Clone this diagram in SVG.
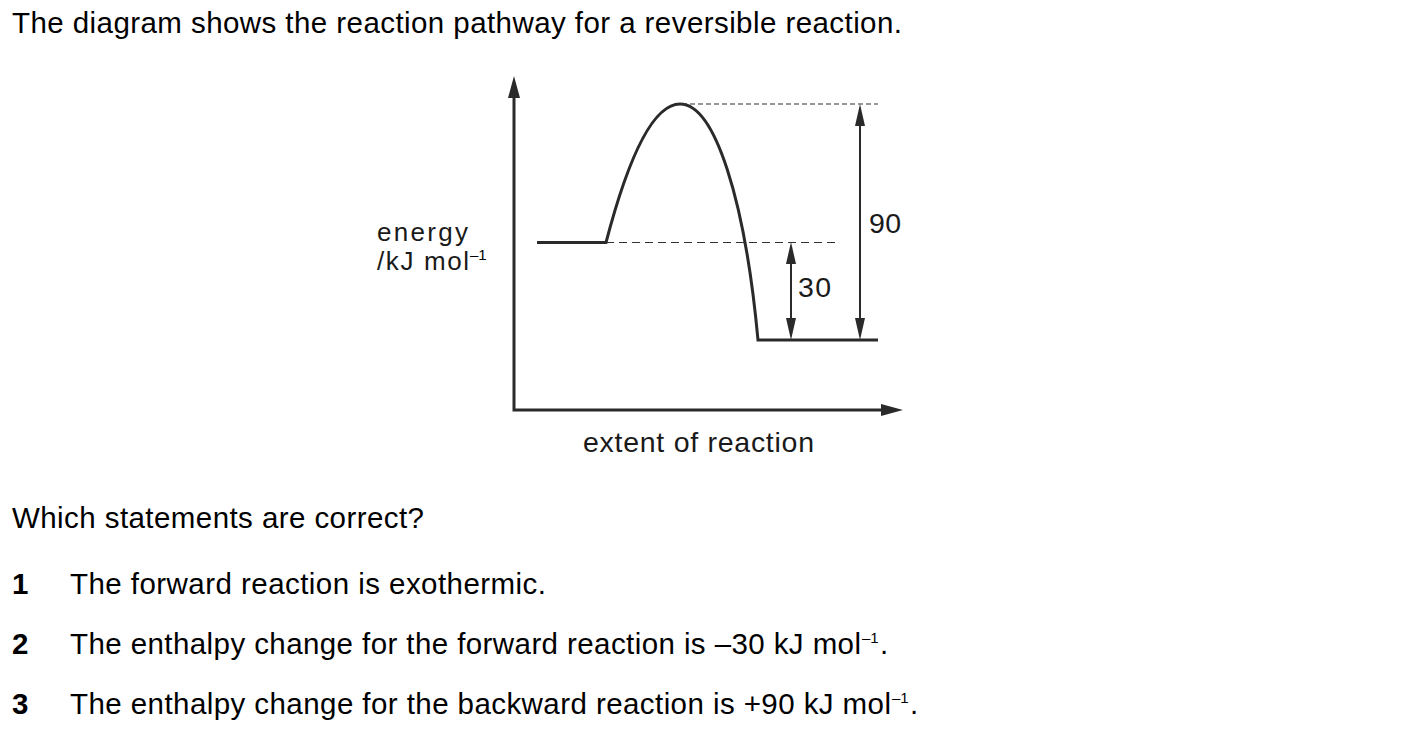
<svg xmlns="http://www.w3.org/2000/svg" width="1424" height="732" viewBox="0 0 1424 732">
<style>
text{font-family:"Liberation Sans",Arial,sans-serif;fill:#000}
.t{font-size:29.5px}
.lab{font-size:28.5px;fill:#1a1a1a}
.ylab{font-size:26px;fill:#1a1a1a}
.num{font-size:28.5px;fill:#1a1a1a}
.sup{font-size:15px}
.b{font-weight:bold}
.ax{stroke:#2a2a2a;stroke-width:3;fill:none}
.cv{stroke:#2a2a2a;stroke-width:3;fill:none}
.dash1{stroke:#333;stroke-width:1;stroke-dasharray:5 3;fill:none}
.dash2{stroke:#333;stroke-width:1;stroke-dasharray:8 5;fill:none}
.dim{stroke:#2a2a2a;stroke-width:2;fill:none}
.head{fill:#2a2a2a}
</style>
<rect width="1424" height="732" fill="#fff"/>
<g id="title"><text class="t" x="12" y="33" textLength="890">The diagram shows the reaction pathway for a reversible reaction.</text></g>
<g id="axes">
<path class="ax" d="M514,96 V410 H884"/>
<polygon class="head" points="514,76 520,98 508,98"/>
<polygon class="head" points="903,410 881,404 881,416"/>
</g>
<g id="y-label">
<text class="ylab" x="377" y="241" textLength="91">energy</text>
<text class="ylab" x="377" y="270" textLength="92">/kJ mol</text>
<text class="sup" x="470" y="260" fill="#1a1a1a">–1</text>
</g>
<g id="x-label"><text class="lab" x="583" y="452" textLength="231">extent of reaction</text></g>
<g id="profile">
<path class="cv" d="M537,242.5 H606 C625,170 650,104 680,104 C715,104 745,200 758,340 H878"/>
</g>
<g id="connectors">
<line class="dash1" x1="682" y1="104" x2="878" y2="104"/>
<line class="dash2" x1="606" y1="242.5" x2="839" y2="242.5"/>
<line class="dim" x1="791" y1="258" x2="791" y2="325"/>
<polygon class="head" points="791,242 796,264 786,264"/>
<polygon class="head" points="791,340 796,318 786,318"/>
<line class="dim" x1="860" y1="120" x2="860" y2="325"/>
<polygon class="head" points="860,104 865,126 855,126"/>
<polygon class="head" points="860,340 865,318 855,318"/>
</g>
<g id="dim-labels">
<text class="num" x="798" y="297" textLength="33">30</text>
<text class="num" x="869" y="233" textLength="32">90</text>
</g>
<g id="question"><text class="t" x="12" y="528" textLength="412">Which statements are correct?</text></g>
<g id="statement-1">
<text class="t b" x="12" y="594">1</text>
<text class="t" x="70" y="594" textLength="476">The forward reaction is exothermic.</text>
</g>
<g id="statement-2">
<text class="t b" x="12" y="654">2</text>
<text class="t" x="70" y="654" textLength="791">The enthalpy change for the forward reaction is –30 kJ mol</text>
<text class="sup" x="862" y="643">–1</text>
<text class="t" x="880" y="654">.</text>
</g>
<g id="statement-3">
<text class="t b" x="12" y="714">3</text>
<text class="t" x="70" y="714" textLength="821">The enthalpy change for the backward reaction is +90 kJ mol</text>
<text class="sup" x="892" y="703">–1</text>
<text class="t" x="910" y="714">.</text>
</g>
</svg>
